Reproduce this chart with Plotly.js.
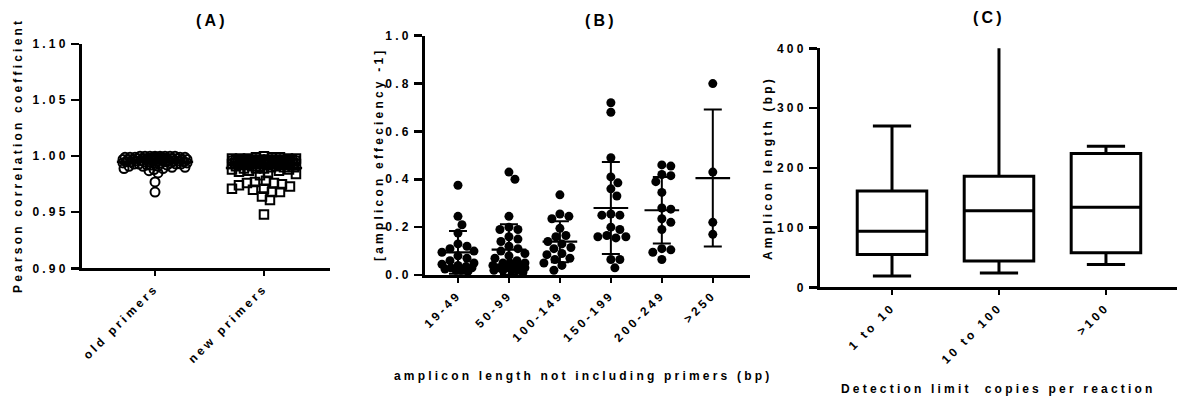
<!DOCTYPE html>
<html>
<head>
<meta charset="utf-8">
<script src="https://cdn.plot.ly/plotly-3.0.1.min.js"></script>
<style>
  html, body { margin: 0; padding: 0; background: #fff; }
  #chart { width: 1177px; height: 405px; }
  svg text, svg tspan {
    letter-spacing: 3.2px;
    font-family: "Liberation Sans", Arial, sans-serif !important;
    font-weight: bold !important;
  }
</style>
</head>
<body>
<div id="chart"></div>
<script>
// ---------------- DATA ----------------
// Panel A: Pearson correlation coefficients
const panelACategories = ['old primers', 'new primers'];
const oldPrimers = [
  1.000, 1.000, 1.000, 1.000, 1.000, 1.000, 1.000, 1.000,
  0.999, 0.999, 0.999, 0.999, 0.999, 0.999, 0.999, 0.999,
  0.998, 0.998, 0.998, 0.998, 0.998, 0.998, 0.998, 0.998, 0.998,
  0.997, 0.997, 0.997, 0.997, 0.997, 0.997, 0.997, 0.997,
  0.996, 0.996, 0.996, 0.996, 0.996, 0.996, 0.996,
  0.995, 0.995, 0.995, 0.995, 0.995, 0.995,
  0.994, 0.994, 0.994, 0.994, 0.994,
  0.993, 0.993, 0.993, 0.993,
  0.992, 0.992, 0.992,
  0.991, 0.991, 0.991,
  0.990, 0.990,
  0.989, 0.989,
  0.988, 0.987, 0.985,
  0.977, 0.968
];
const newPrimers = [
  1.000,
  0.999, 0.999, 0.999,
  0.998, 0.998, 0.998, 0.998, 0.998,
  0.997, 0.997, 0.997, 0.997, 0.997, 0.997, 0.997, 0.997,
  0.996, 0.996, 0.996, 0.996, 0.996, 0.996, 0.996, 0.996, 0.996,
  0.995, 0.995, 0.995, 0.995, 0.995, 0.995, 0.995, 0.995,
  0.994, 0.994, 0.994, 0.994, 0.994, 0.994, 0.994,
  0.993, 0.993, 0.993, 0.993, 0.993, 0.993,
  0.992, 0.992, 0.992, 0.992, 0.992,
  0.991, 0.991, 0.991, 0.991,
  0.990, 0.990, 0.990,
  0.989, 0.989, 0.989,
  0.988, 0.988,
  0.987, 0.987,
  0.986, 0.985, 0.984, 0.983,
  0.978, 0.977, 0.976, 0.976, 0.975, 0.974, 0.973,
  0.971, 0.971, 0.970, 0.968, 0.968, 0.964, 0.961, 0.948
];

// Panel B: amplicon efficiency - 1, by amplicon length group
const panelBCategories = ['19-49', '50-99', '100-149', '150-199', '200-249', '>250'];
const eff19to49 = [0.375, 0.245, 0.21, 0.175, 0.13, 0.12, 0.11, 0.10, 0.095, 0.08, 0.07,
  0.06, 0.05, 0.045, 0.04, 0.035, 0.03, 0.03, 0.025, 0.02, 0.02, 0.015];
const eff50to99 = [0.43, 0.40, 0.245, 0.20, 0.19, 0.19, 0.16, 0.15, 0.14, 0.12, 0.11, 0.10,
  0.09, 0.08, 0.07, 0.06, 0.05, 0.05, 0.05, 0.04, 0.04, 0.04, 0.03, 0.03, 0.03, 0.02,
  0.02, 0.02, 0.02, 0.01];
const eff100to149 = [0.335, 0.255, 0.245, 0.235, 0.195, 0.165, 0.16, 0.14, 0.13, 0.115,
  0.11, 0.09, 0.085, 0.07, 0.065, 0.05, 0.04, 0.02];
const eff150to199 = [0.72, 0.68, 0.49, 0.41, 0.385, 0.36, 0.33, 0.255, 0.25, 0.25, 0.20,
  0.19, 0.165, 0.16, 0.16, 0.155, 0.065, 0.065, 0.03];
const eff200to249 = [0.46, 0.455, 0.42, 0.415, 0.39, 0.345, 0.28, 0.275, 0.235, 0.22,
  0.19, 0.11, 0.105, 0.095, 0.065];
const effOver250 = [0.80, 0.43, 0.22, 0.17];

// Panel C: amplicon length box plots by detection limit
const panelCCategories = ['1 to 10', '10 to 100', '>100'];
const cLowerWhisker = [19, 24, 38];
const cQ1 = [55, 44, 58];
const cMedian = [94, 128, 134];
const cQ3 = [161, 186, 224];
const cUpperWhisker = [270, 430, 236];

// ---------------- LAYOUT GEOMETRY ----------------
const W = 1177, H = 405;
const geomA = { x0: 82, x1: 330, yTop: 44, yBot: 268.3, xr: [-0.67, 1.606], yr: [0.9, 1.1] };
const geomB = { x0: 425, x1: 750, yTop: 35.7, yBot: 275, xr: [-0.647, 5.73], yr: [0, 1] };
const geomC = { x0: 820, x1: 1177, yTop: 48.3, yBot: 287.3, xr: [-0.673, 2.664], yr: [0, 400] };

function pxPer(g) {
  return {
    x: (g.x1 - g.x0) / (g.xr[1] - g.xr[0]),
    y: (g.yBot - g.yTop) / (g.yr[1] - g.yr[0])
  };
}

// Beeswarm offsets (in category units) computed from the values
function swarmOffsets(vals, pxX, pxY, minDist, maxHalfPx) {
  const idx = vals.map((v, i) => i).sort((a, b) => vals[b] - vals[a]);
  const placed = [];
  const off = new Array(vals.length).fill(0);
  const cands = [0];
  for (let k = 1; k <= maxHalfPx; k++) { cands.push(k); cands.push(-k); }
  for (const i of idx) {
    const y = vals[i] * pxY;
    let chosen = null, bestD = -1, bestC = 0;
    for (const c of cands) {
      let md = Infinity;
      for (const p of placed) {
        const d = Math.hypot(c - p.x, y - p.y);
        if (d < md) md = d;
      }
      if (md >= minDist) { chosen = c; break; }
      if (md > bestD + 1e-9) { bestD = md; bestC = c; }
    }
    if (chosen === null) chosen = bestC;
    placed.push({ x: chosen, y: y });
    off[i] = chosen / pxX;
  }
  return off;
}

const mean = a => a.reduce((s, v) => s + v, 0) / a.length;
const sd = a => { const m = mean(a); return Math.sqrt(a.reduce((s, v) => s + (v - m) * (v - m), 0) / (a.length - 1)); };

const FONT = { family: 'Arial', size: 12, color: '#000', weight: 'bold' };
const traces = [];

// ---------- Panel A ----------
const pA = pxPer(geomA);
const aGroups = [oldPrimers, newPrimers];
const aSymbols = ['circle-open', 'square-open'];
const aSizes = [9, 8.5];
const aMinDist = [5, 8];
aGroups.forEach((vals, gi) => {
  const off = swarmOffsets(vals, pA.x, pA.y, aMinDist[gi], 32);
  traces.push({
    type: 'scatter', mode: 'markers', xaxis: 'x', yaxis: 'y',
    x: vals.map((v, i) => gi + off[i]), y: vals,
    marker: { symbol: aSymbols[gi], size: aSizes[gi], color: '#000', line: { width: 2, color: '#000' } },
    cliponaxis: false, hoverinfo: 'skip'
  });
  const m = mean(vals);
  traces.push({
    type: 'scatter', mode: 'lines', xaxis: 'x', yaxis: 'y',
    x: [gi - 0.35, gi + 0.35], y: [m, m],
    line: { color: '#000', width: 2.5 }, hoverinfo: 'skip'
  });
});

// ---------- Panel B ----------
const pB = pxPer(geomB);
const bGroups = [eff19to49, eff50to99, eff100to149, eff150to199, eff200to249, effOver250];
bGroups.forEach((vals, gi) => {
  const off = swarmOffsets(vals, pB.x, pB.y, 9, 16);
  traces.push({
    type: 'scatter', mode: 'markers', xaxis: 'x2', yaxis: 'y2',
    x: vals.map((v, i) => gi + off[i]), y: vals,
    marker: { symbol: 'circle', size: 9, color: '#000' },
    cliponaxis: false, hoverinfo: 'skip'
  });
  const m = mean(vals);
  traces.push({
    type: 'scatter', mode: 'lines', xaxis: 'x2', yaxis: 'y2',
    x: [gi - 0.34, gi + 0.34], y: [m, m],
    line: { color: '#000', width: 2.2 }, hoverinfo: 'skip'
  });
});
traces.push({
  type: 'scatter', mode: 'markers', xaxis: 'x2', yaxis: 'y2',
  x: bGroups.map((g, i) => i), y: bGroups.map(mean),
  marker: { size: 1, color: 'rgba(0,0,0,0)' },
  error_y: { type: 'data', array: bGroups.map(sd), visible: true, color: '#000', thickness: 2, width: 9 },
  cliponaxis: false, hoverinfo: 'skip'
});

// ---------- Panel C ----------
traces.push({
  type: 'box', xaxis: 'x3', yaxis: 'y3',
  x: panelCCategories.map((c, i) => i),
  q1: cQ1, median: cMedian, q3: cQ3,
  lowerfence: cLowerWhisker, upperfence: cUpperWhisker,
  width: 0.65, whiskerwidth: 0.55,
  fillcolor: '#fff', line: { color: '#000', width: 3 },
  boxpoints: false, hoverinfo: 'skip'
});

// ---------- Axes ----------
function xdom(g) { return [g.x0 / W, g.x1 / W]; }
function ydom(g) { return [1 - g.yBot / H, 1 - g.yTop / H]; }
const axisCommon = {
  showline: true, linecolor: '#000', linewidth: 3, mirror: false,
  showgrid: false, zeroline: false, ticks: 'outside', tickcolor: '#000',
  tickwidth: 2.5, tickfont: FONT, fixedrange: true
};

const layout = {
  width: W, height: H,
  margin: { l: 0, r: 0, t: 0, b: 0 },
  paper_bgcolor: '#fff', plot_bgcolor: 'rgba(0,0,0,0)',
  showlegend: false, hovermode: false,
  font: FONT,
  xaxis: Object.assign({}, axisCommon, {
    domain: xdom(geomA), range: geomA.xr, anchor: 'y',
    tickvals: [0, 1], ticktext: panelACategories, tickangle: -45, ticklen: 5
  }),
  yaxis: Object.assign({}, axisCommon, {
    domain: ydom(geomA), range: geomA.yr, anchor: 'x',
    tick0: 0.9, dtick: 0.05, tickformat: '.2f', ticklen: 8
  }),
  xaxis2: Object.assign({}, axisCommon, {
    domain: xdom(geomB), range: geomB.xr, anchor: 'y2',
    tickvals: [0, 1, 2, 3, 4, 5], ticktext: panelBCategories, tickangle: -45, ticklen: 5
  }),
  yaxis2: Object.assign({}, axisCommon, {
    domain: ydom(geomB), range: geomB.yr, anchor: 'x2',
    tick0: 0, dtick: 0.2, tickformat: '.1f', ticklen: 8
  }),
  xaxis3: Object.assign({}, axisCommon, {
    domain: xdom(geomC), range: geomC.xr, anchor: 'y3',
    tickvals: [0, 1, 2], ticktext: panelCCategories, tickangle: -45, ticklen: 5
  }),
  yaxis3: Object.assign({}, axisCommon, {
    domain: ydom(geomC), range: geomC.yr, anchor: 'x3',
    tick0: 0, dtick: 100, ticklen: 8
  }),
  annotations: []
};

function ann(text, px, py, angle, size) {
  layout.annotations.push({
    text: '<b>' + text + '</b>', xref: 'paper', yref: 'paper', x: px / W, y: 1 - py / H,
    xanchor: 'center', yanchor: 'middle', showarrow: false, textangle: angle || 0,
    font: Object.assign({}, FONT, { size: size || 12 })
  });
}
ann('(A)', 212, 21, 0, 16);
ann('(B)', 601, 21, 0, 16);
ann('(C)', 989, 18, 0, 16);
ann('Pearson correlation coefficient', 18, 156, -90);
ann('[amplicon effeciency -1]', 379, 154, -90);
ann('Amplicon length (bp)', 768, 168, -90);
ann('amplicon length not including primers (bp)', 583, 376);
ann('Detection limit  copies per reaction', 998, 389);

Plotly.newPlot('chart', traces, layout, { staticPlot: true, displayModeBar: false });
</script>
</body>
</html>
